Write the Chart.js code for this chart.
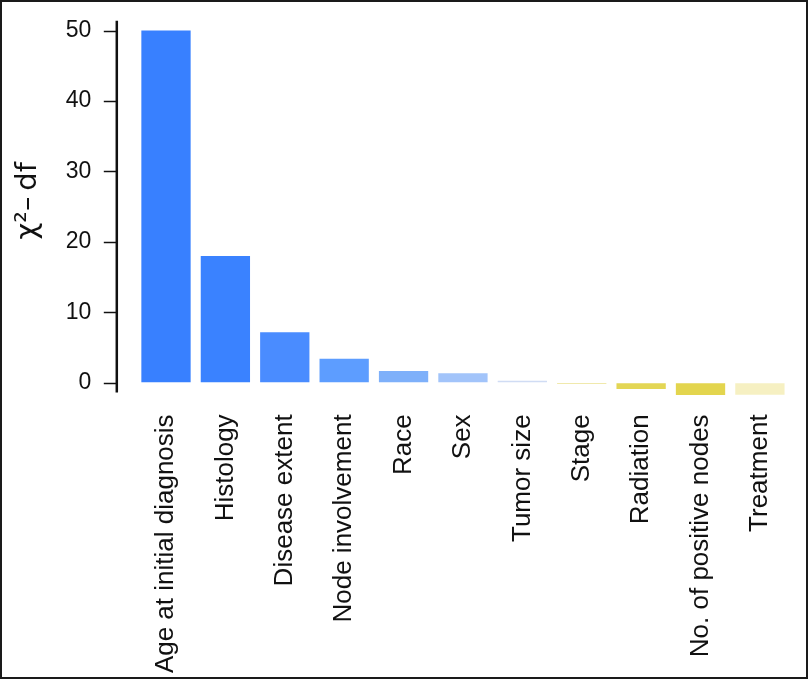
<!DOCTYPE html>
<html>
<head>
<meta charset="utf-8">
<script src="https://cdn.jsdelivr.net/npm/chart.js@4/dist/chart.umd.min.js"></script>
<style>
  html, body { margin: 0; padding: 0; background: #fff; }
  #box {
    width: 808px; height: 679px; box-sizing: border-box;
    border: 2px solid #1a1a1a; position: relative;
  }
</style>
</head>
<body>
<div id="box"><canvas id="chart"></canvas></div>
<script>
'use strict';

var categories = [
    'Age at initial diagnosis', 'Histology', 'Disease extent', 'Node involvement',
    'Race', 'Sex', 'Tumor size', 'Stage', 'Radiation', 'No. of positive nodes', 'Treatment'
];
var chiSqMinusDf = [50, 18, 7.15, 3.4, 1.66, 1.35, 0.28, -0.15, -0.9, -1.75, -1.7];
var barColors = [
    '#3880ff', '#3a82ff', '#4a8cff', '#5d9dff', '#7eb0fa', '#a2c4fa',
    '#d0dcf4', '#e2d45a', '#e3d655', '#e3d54e', '#f6f0c2'
];
var yTicks = [0, 10, 20, 30, 40, 50];

// axis line is drawn a bit left of the first bar, like the original
var axisLine = {
    id: 'axisLine',
    afterDraw: function (chart) {
        var ctx = chart.ctx;
        var y = chart.scales.y;
        var x0 = chart.chartArea.left - 19.5;
        ctx.save();
        ctx.strokeStyle = '#111';
        ctx.lineWidth = 2.5;
        ctx.beginPath();
        ctx.moveTo(x0, y.getPixelForValue(51.4));
        ctx.lineTo(x0, y.getPixelForValue(-1.4));
        ctx.stroke();
        ctx.lineWidth = 1.5;
        y.ticks.forEach(function (t) {
            var py = Math.round(y.getPixelForValue(t.value)) + 0.5;
            ctx.beginPath();
            ctx.moveTo(x0 - 13, py);
            ctx.lineTo(x0, py);
            ctx.stroke();
        });
        ctx.restore();
    }
};

new Chart(document.getElementById('chart'), {
    type: 'bar',
    data: {
        labels: categories,
        datasets: [{
            data: chiSqMinusDf,
            backgroundColor: barColors,
            borderWidth: 0,
            barPercentage: 0.83,
            categoryPercentage: 1
        }]
    },
    options: {
        responsive: true,
        maintainAspectRatio: false,
        animation: false,
        layout: { padding: { top: 18.7, right: 16.4, bottom: 0, left: 0 } },
        plugins: {
            legend: { display: false },
            tooltip: { enabled: false }
        },
        scales: {
            x: {
                offset: true,
                grid: { display: false },
                border: { display: false },
                ticks: {
                    minRotation: 90,
                    maxRotation: 90,
                    autoSkip: false,
                    padding: 11,
                    color: '#111',
                    font: { family: '"Liberation Sans", Arial, sans-serif', size: 26 }
                },
                afterFit: function (scale) {
                    scale.height = 281.6;
                    scale.paddingLeft = 0;
                    scale.paddingRight = 0;
                }
            },
            y: {
                min: -1.8,
                max: 51.4,
                grid: { display: true, drawOnChartArea: false, drawTicks: false, color: 'rgba(0,0,0,0)' },
                border: { display: false },
                ticks: {
                    stepSize: 10,
                    padding: 45,
                    color: '#111',
                    font: { family: '"Liberation Sans", Arial, sans-serif', size: 23 }
                },
                afterBuildTicks: function (scale) {
                    scale.ticks = yTicks.map(function (v) { return { value: v }; });
                },
                afterFit: function (scale) {
                    scale.width = 134.3;
                    scale.paddingTop = 0;
                    scale.paddingBottom = 0;
                },
                title: {
                    display: true,
                    text: '\u2002χ²–\u2009df',
                    color: '#111',
                    padding: { top: 9, bottom: 0 },
                    font: { family: '"DejaVu Sans", sans-serif', size: 29 }
                }
            }
        }
    },
    plugins: [axisLine]
});
</script>
</body>
</html>
